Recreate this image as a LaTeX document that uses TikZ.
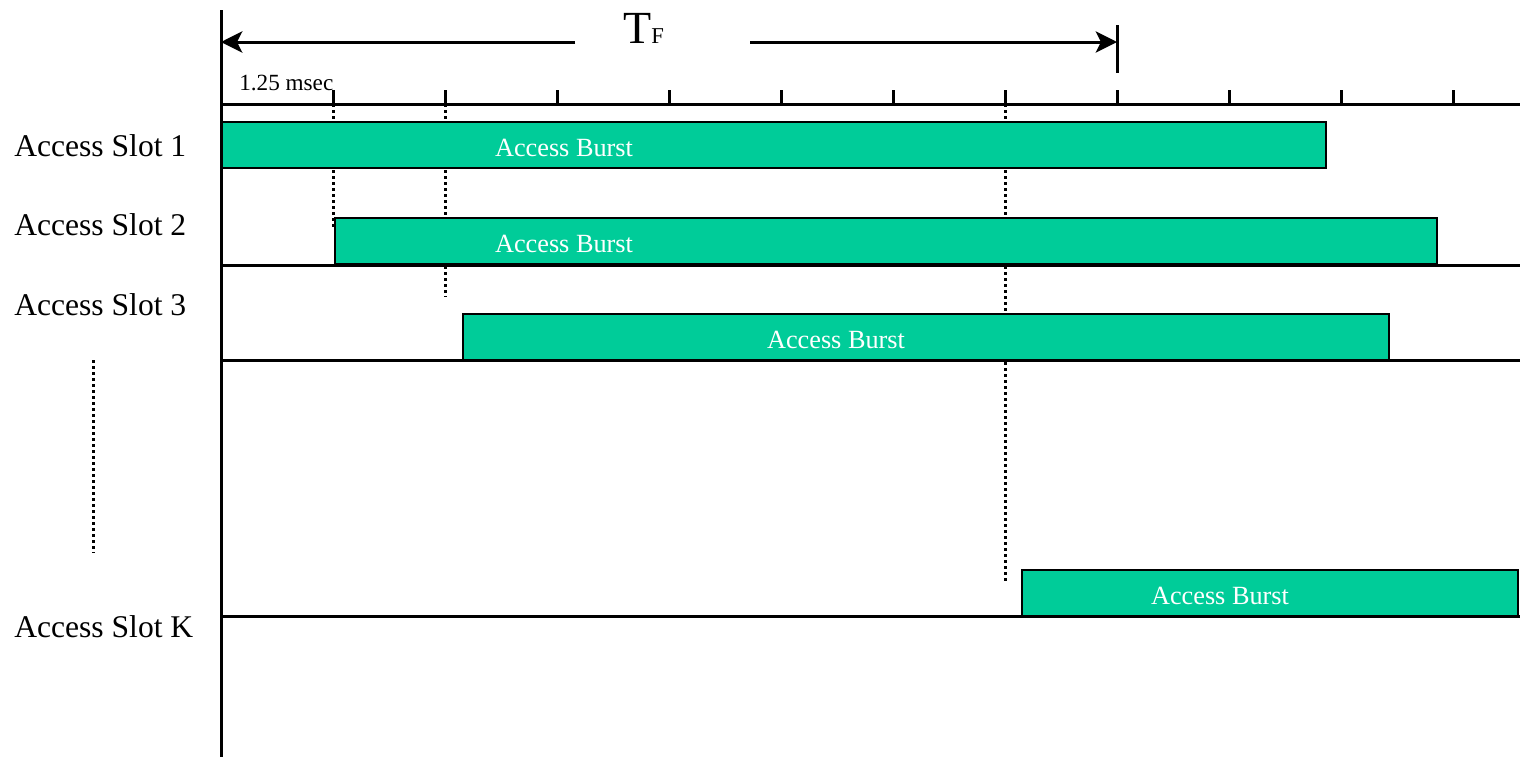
\documentclass[tikz,border=0pt]{standalone}
\usepackage{fontspec}
\setmainfont{Liberation Serif}
\usetikzlibrary{arrows.meta}
\definecolor{burstgreen}{HTML}{00CC99}
\begin{document}
\begin{tikzpicture}[x=0.75pt,y=-0.75pt,
  axis/.style={line width=2.25pt},
  dotline/.style={line width=2.25pt,dash pattern=on 2.25pt off 2.25pt},
  burst/.style={fill=burstgreen,draw=black,line width=1.8pt},
  bursttext/.style={text=white,font=\fontsize{19.7}{20}\selectfont,anchor=base,inner sep=0pt},
  slotlabel/.style={font=\fontsize{23.7}{24}\selectfont,anchor=base west,inner sep=0pt},
  tfarrow/.style={line width=2.25pt,-{Stealth[length=16pt,width=16pt,inset=4pt]}}]
\useasboundingbox (0,0) rectangle (1520,758);
% dotted guides
\draw[dotline] (333,104) -- (333,228);
\draw[dotline] (445,104) -- (445,297);
\draw[dotline] (1005,104) -- (1005,583);
\draw[dotline] (93,360) -- (93,553);
% axes
\draw[axis] (221,10) -- (221,757);
\draw[axis] (221,104) -- (1520,104);
\foreach \t in {333,445,...,1453} \draw[axis] (\t,90) -- (\t,104);
% bursts
\path[burst] (222,122) rectangle (1326,168);
\path[burst] (335,218) rectangle (1437,264);
\path[burst] (463,314) rectangle (1389,360);
\path[burst] (1022,570) rectangle (1518,616);
% slot lines
\draw[axis] (221,265) -- (1520,265);
\draw[axis] (221,360) -- (1520,360);
\draw[axis] (221,616) -- (1520,616);
\node[bursttext] (b1) at (564,156) {Access Burst};
\node[bursttext] (b2) at (564,252) {Access Burst};
\node[bursttext] (b3) at (836,348) {Access Burst};
\node[bursttext] (bk) at (1220,604) {Access Burst};
% slot labels
\node[slotlabel] (s1) at (14,156) {Access Slot 1};
\node[slotlabel] (s2) at (14,235) {Access Slot 2};
\node[slotlabel] (s3) at (14,315) {Access Slot 3};
\node[slotlabel] (sk) at (14,637) {Access Slot K};
\node[font=\fontsize{17.4}{18}\selectfont,anchor=base west,inner sep=0pt] (ms) at (239,90) {1.25 msec};
% T_F
\coordinate (la) at (575,42);
\coordinate (ra) at (750,42);
\coordinate (lend) at (221,42);
\coordinate (rend) at (1117,42);
\draw[tfarrow] (la) -- (lend);
\draw[tfarrow] (ra) -- (rend);
\draw[axis] (1117,25) -- (1117,73);
\node[anchor=base west,inner sep=0pt] (tf) at (623,43) {\fontsize{34.5}{35}\selectfont T\fontsize{17}{17}\selectfont F};
\end{tikzpicture}
\end{document}
